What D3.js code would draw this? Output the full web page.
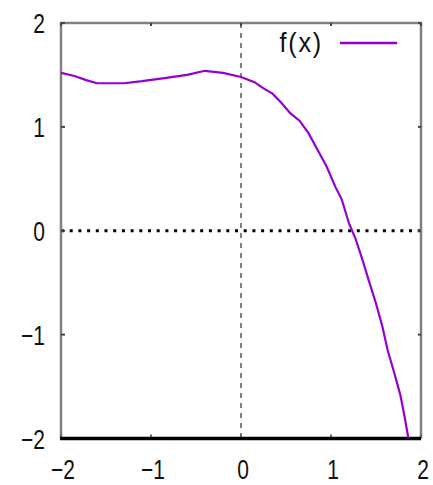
<!DOCTYPE html>
<html>
<head>
<meta charset="utf-8">
<script src="https://cdn.jsdelivr.net/npm/d3@7"></script>
<style>
  html, body { margin: 0; padding: 0; background: #fff; }
  svg { display: block; }
  .lbl { font-family: "Liberation Sans", sans-serif; font-size: 28px; fill: #111; }
</style>
</head>
<body>
<div id="chart"></div>
<script>
// values
var xTicks = [-2, -1, 0, 1, 2];
var yTicks = [-2, -1, 0, 1, 2];
var seriesName = 'f(x)';
var fx = [-2.0, -1.85, -1.72, -1.6, -1.3, -1.1, -0.85, -0.6, -0.4, -0.2, 0.0,
  0.15, 0.25, 0.35, 0.45, 0.55, 0.65, 0.75, 0.85, 0.95, 1.05, 1.12, 1.2,
  1.27, 1.35, 1.42, 1.5, 1.57, 1.63, 1.7, 1.77, 1.82, 1.86];
var fy = [1.52, 1.49, 1.45, 1.42, 1.42, 1.44, 1.47, 1.50, 1.54, 1.52, 1.48,
  1.43, 1.37, 1.32, 1.23, 1.13, 1.06, 0.94, 0.78, 0.62, 0.42, 0.30, 0.07,
  -0.07, -0.28, -0.48, -0.7, -0.92, -1.15, -1.36, -1.58, -1.8, -2.0];

var width = 433, height = 485;
var plotL = 61, plotR = 421, plotT = 23, plotB = 438.5;

var x = d3.scaleLinear().domain([-2, 2]).range([plotL, plotR]);
var y = d3.scaleLinear().domain([-2, 2]).range([plotB, plotT]);

var svg = d3.select('#chart').append('svg')
  .attr('width', width)
  .attr('height', height);

svg.append('clipPath').attr('id', 'clip')
  .append('rect')
  .attr('x', plotL).attr('y', plotT)
  .attr('width', plotR - plotL).attr('height', plotB - plotT);

// zero axes
svg.append('line')
  .attr('x1', x(0)).attr('x2', x(0))
  .attr('y1', plotT).attr('y2', plotB)
  .attr('stroke', '#808080').attr('stroke-width', 2)
  .attr('stroke-dasharray', '5,5');
svg.append('line')
  .attr('x1', plotL).attr('x2', plotR)
  .attr('y1', y(0)).attr('y2', y(0))
  .attr('stroke', '#000').attr('stroke-width', 3)
  .attr('stroke-dasharray', '3,5.7');

// frame
svg.append('path')
  .attr('d', 'M' + plotL + ',' + plotB + 'V' + plotT + 'H' + plotR + 'V' + plotB)
  .attr('fill', 'none')
  .attr('stroke', '#808080')
  .attr('stroke-width', 2.5);

// ticks
xTicks.forEach(function(t) {
  svg.append('line').attr('x1', x(t)).attr('x2', x(t)).attr('y1', plotB).attr('y2', plotB - 4)
    .attr('stroke', '#666').attr('stroke-width', 2);
  svg.append('line').attr('x1', x(t)).attr('x2', x(t)).attr('y1', plotT).attr('y2', plotT + 3)
    .attr('stroke', '#444').attr('stroke-width', 2);
});
yTicks.forEach(function(t) {
  svg.append('line').attr('x1', plotL).attr('x2', plotL + 4).attr('y1', y(t)).attr('y2', y(t))
    .attr('stroke', '#444').attr('stroke-width', 2);
  svg.append('line').attr('x1', plotR).attr('x2', plotR - 3).attr('y1', y(t)).attr('y2', y(t))
    .attr('stroke', '#444').attr('stroke-width', 2);
});

// bottom axis line
svg.append('line')
  .attr('x1', plotL - 1).attr('x2', plotR)
  .attr('y1', plotB).attr('y2', plotB)
  .attr('stroke', '#000').attr('stroke-width', 3.5);

// tick labels
var fmt = function(d) { return d < 0 ? '\u2212' + Math.abs(d) : String(d); };
svg.selectAll('.ylbl').data(yTicks).enter().append('text')
  .attr('class', 'lbl')
  .attr('text-anchor', 'end')
  .attr('transform', function(d) { return 'translate(45,' + (y(d) + 10) + ') scale(0.75,1)'; })
  .text(fmt);
svg.selectAll('.xlbl').data(xTicks).enter().append('text')
  .attr('class', 'lbl')
  .attr('text-anchor', 'middle')
  .attr('transform', function(d) {
    var px = Math.min(x(d) + 2, 425);
    return 'translate(' + px + ',479) scale(0.75,1)';
  })
  .text(fmt);

// curve
var line = d3.line()
  .x(function(d) { return x(d[0]); })
  .y(function(d) { return y(d[1]); });
svg.append('path')
  .datum(d3.zip(fx, fy))
  .attr('clip-path', 'url(#clip)')
  .attr('fill', 'none')
  .attr('stroke', '#9400d3')
  .attr('stroke-width', 2.2)
  .attr('d', line);

// legend
svg.append('text')
  .attr('class', 'lbl')
  .attr('text-anchor', 'end')
  .attr('letter-spacing', 2)
  .attr('transform', 'translate(323,52) scale(0.9,1)')
  .text(seriesName);
svg.append('line')
  .attr('x1', 340).attr('x2', 397)
  .attr('y1', 43).attr('y2', 43)
  .attr('stroke', '#9400d3').attr('stroke-width', 2.5);
</script>
</body>
</html>
